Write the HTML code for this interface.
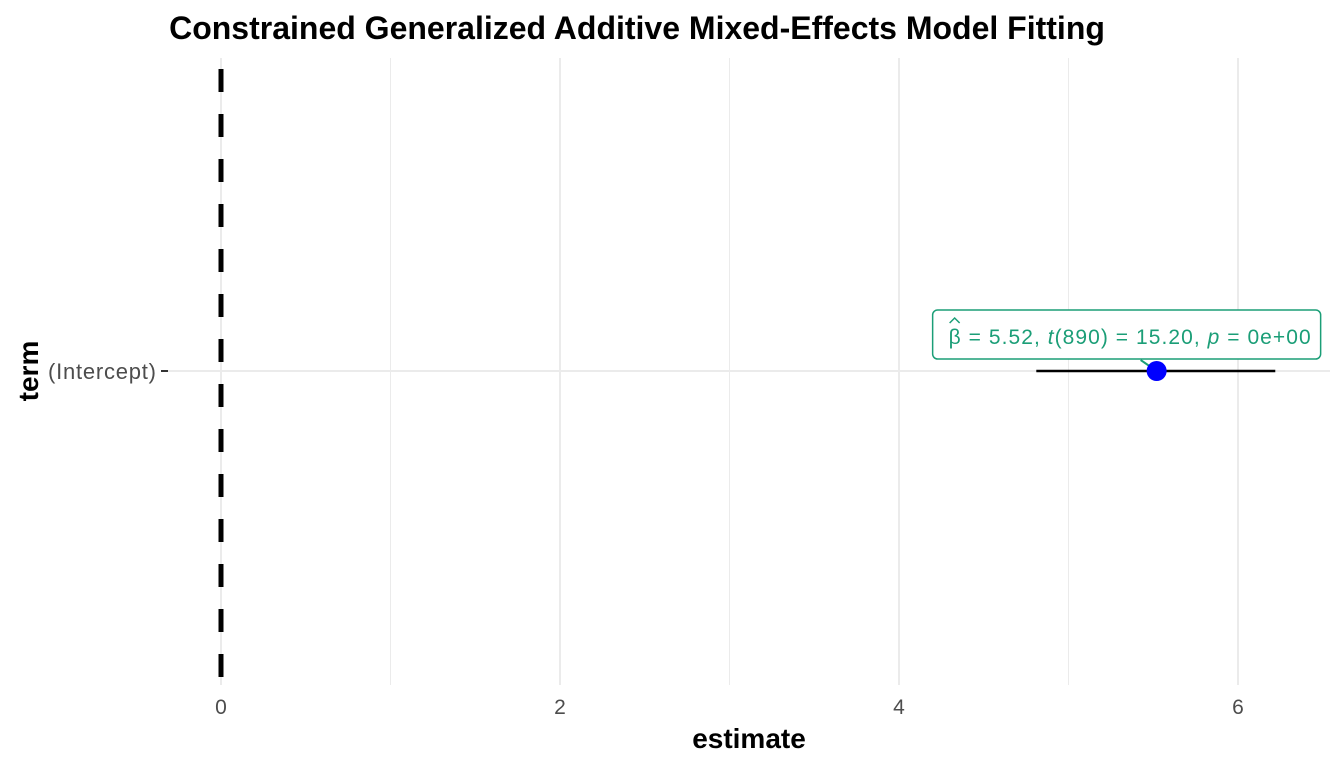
<!DOCTYPE html>
<html><head><meta charset="utf-8"><style>
body{margin:0;background:#fff;}
svg text{font-family:"Liberation Sans",Arial,sans-serif;}
</style></head><body>
<svg id="chart" width="1344" height="768" xmlns="http://www.w3.org/2000/svg">
<text x="637" y="39" text-anchor="middle" font-size="32" font-weight="bold">Constrained Generalized Additive Mixed-Effects Model Fitting</text>
<g id="grid"></g>
<g id="marks"></g>
<text x="749" y="748" text-anchor="middle" font-size="28" font-weight="bold">estimate</text>
<text transform="translate(38,371) rotate(-90)" text-anchor="middle" font-size="28" font-weight="bold">term</text>
</svg>
<script>
const terms=["(Intercept)"];
const estimates=[5.52];
const ciLow=[4.81];
const ciHigh=[6.22];
const labelParts=[["= 5.52,  ","t","(890) = 15.20,  ","p"," = 0e+00"]];
const xTicks=[0,2,4,6];
const NS="http://www.w3.org/2000/svg";
const xs=v=>221+v*169.5;
const ys=i=>371+i*100;
const pTop=58,pBottom=685,pLeft=168,pRight=1330;
function mk(t,a,p){const e=document.createElementNS(NS,t);for(const k in a)e.setAttribute(k,a[k]);(p||document.getElementById('marks')).appendChild(e);return e;}
const grid=document.getElementById('grid');
for(let v=0;v<=6.5;v+=1){const g=mk('line',{x1:xs(v),x2:xs(v),y1:pTop,y2:pBottom,stroke:'#ebebeb','stroke-width':v%2===0?2:1},grid);

}
xTicks.forEach(v=>{const t=mk('text',{x:xs(v),y:714,'text-anchor':'middle','font-size':21,fill:'#4d4d4d'},grid);t.textContent=v;

});
terms.forEach((term,i)=>{
const gl=mk('line',{x1:pLeft,x2:pRight,y1:ys(i),y2:ys(i),stroke:'#ebebeb','stroke-width':2},grid);


const tk=mk('line',{x1:161,x2:168,y1:ys(i),y2:ys(i),stroke:'#333','stroke-width':2},grid);


const tl=mk('text',{x:156,y:ys(i)+8,'text-anchor':'end','font-size':22,fill:'#4d4d4d',textLength:108},grid);tl.textContent=term;


});
const z=mk('line',{x1:xs(0),x2:xs(0),y1:pTop,y2:pBottom,stroke:'#000','stroke-width':5,'stroke-dasharray':'23 22','stroke-dashoffset':'-11'});


terms.forEach((term,i)=>{
const ci=mk('line',{x1:xs(ciLow[i]),x2:xs(ciHigh[i]),y1:ys(i),y2:ys(i),stroke:'#000','stroke-width':2.5});


const bx=xs(estimates[i])-224, by=ys(i)-61;
const con=mk('line',{x1:xs(estimates[i])-16,y1:ys(i)-11,x2:xs(estimates[i]),y2:ys(i),stroke:'#1b9e77','stroke-width':2});


const pt=mk('circle',{cx:xs(estimates[i]),cy:ys(i),r:10,fill:'#0000ff'});


const box=mk('rect',{x:bx,y:by,width:388,height:49,rx:5,fill:'#fff',stroke:'#1b9e77','stroke-width':1.5});


const t=mk('text',{x:bx+16,y:by+34,'font-size':21,fill:'#1b9e77',textLength:362});
t.appendChild(document.createTextNode('β '));
labelParts[i].forEach((s,k)=>{const sp=mk('tspan',{},t);sp.textContent=s;if(k===1||k===3)sp.setAttribute('font-style','italic');});


const hat=mk('path',{d:`M${bx+17} ${by+13} L${bx+22} ${by+8} L${bx+27} ${by+13}`,fill:'none',stroke:'#1b9e77','stroke-width':1.5});


});
</script>
</body></html>
